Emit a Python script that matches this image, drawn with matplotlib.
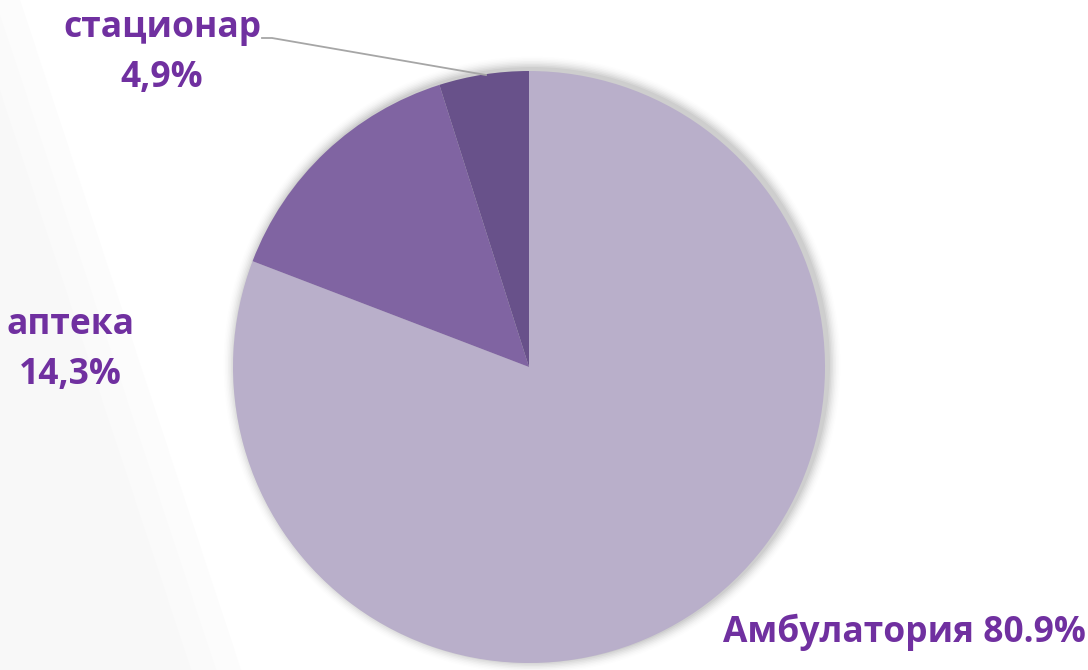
import numpy as np
import matplotlib
matplotlib.use("Agg")
import matplotlib.pyplot as plt
from matplotlib.patches import Circle

labels = ["Амбулатория", "аптека", "стационар"]
shares = [80.9, 14.3, 4.9]
label_text = ["Амбулатория 80.9%", "аптека\n14,3%", "стационар\n4,9%"]
colors = ["#B9AFCA", "#8064A2", "#68518A"]
text_color = "#7030A0"

W, H = 1088, 670
fig = plt.figure(figsize=(W / 100, H / 100), dpi=100)
ax = fig.add_axes([0, 0, 1, 1])
ax.set_xlim(0, W)
ax.set_ylim(0, H)
ax.set_aspect("equal")
ax.axis("off")

# very faint background swoosh on the left, soft edge
yy = np.linspace(0, H, 200)
edge = 20 + 0.33 * (H - yy)
for k, c in enumerate(["#FCFCFC", "#FAFAFA", "#F8F8F8"]):
    ax.fill_betweenx(yy, 0, edge - k * 25, color=c, zorder=0, lw=0)

cx, cy, r = 529, H - 367, 296

# soft shadow
for i, a in enumerate(np.linspace(0.04, 0.008, 8)):
    ax.add_patch(Circle((cx + 3, cy + 2), r + 2 + i * 1.5, color="#000000",
                        alpha=a, lw=0, zorder=1))

wedges, _ = ax.pie(shares, colors=colors, startangle=90, counterclock=False,
                   center=(cx, cy), radius=r, frame=True,
                   wedgeprops=dict(edgecolor="none", linewidth=0))
for w in wedges:
    w.set_zorder(2)
ax.set_xlim(0, W)
ax.set_ylim(0, H)
ax.axis("off")

fkw = dict(family=["Open Sans", "DejaVu Sans"], fontweight="bold",
           color=text_color, fontsize=25.5, ha="center", va="center",
           linespacing=1.55)
ax.text(904, H - 632, label_text[0], **fkw)
ax.text(70, H - 350, label_text[1], **fkw)
ax.text(162, H - 53, label_text[2], **fkw)

# leader line for стационар
ax.plot([262, 272, 486], [H - 38, H - 38, H - 75], color="#A6A6A6", lw=1.3,
        zorder=3)

fig.savefig("out.png", dpi=100)
